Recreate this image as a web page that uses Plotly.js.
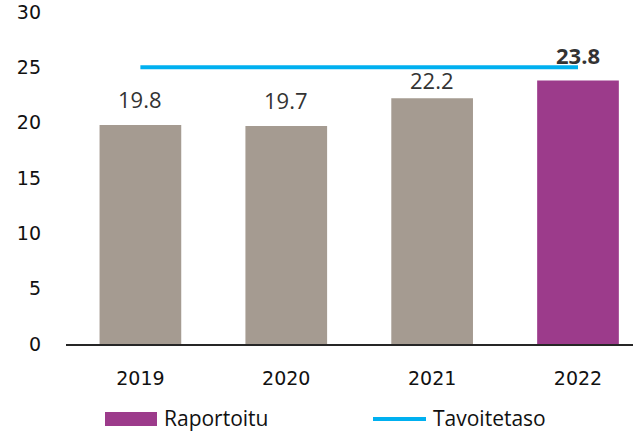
<!DOCTYPE html>
<html>
<head>
<meta charset="utf-8">
<script src="https://cdn.plot.ly/plotly-3.0.1.min.js"></script>
<style>html,body{margin:0;padding:0;background:#fff;}#chart{width:633px;height:433px;}</style>
</head>
<body>
<div id="chart"></div>
<script>
var years = ['2019', '2020', '2021', '2022'];
var reported = [19.8, 19.7, 22.2, 23.8];
var target = [25, 25, 25, 25];
var barColors = ['#A59B91', '#A59B91', '#A59B91', '#9C3B8B'];
var labelBold = [false, false, false, true];
var yTicks = [0, 5, 10, 15, 20, 25, 30];
var seriesNames = ['Raportoitu', 'Tavoitetaso'];

var bars = {
  type: 'bar', x: years, y: reported, name: seriesNames[0],
  marker: {color: barColors}, width: 0.56, showlegend: false, hoverinfo: 'x+y'
};
var line = {
  type: 'scatter', mode: 'lines', x: years, y: target, name: seriesNames[1],
  line: {color: '#00B0F0', width: 4}, showlegend: false
};

// label offsets (px): the 2021 label is nudged down to stay below the target line
var labelNudge = {2: -8};
var annotations = years.map(function (yr, i) {
  var t = reported[i].toFixed(1);
  return {
    x: i, y: reported[i], xref: 'x', yref: 'y', yanchor: 'bottom',
    yshift: 9 + (labelNudge[i] || 0),
    text: labelBold[i] ? '<b>' + t + '</b>' : t, showarrow: false,
    font: {family: 'Open Sans, sans-serif', size: 22, color: '#333333'}
  };
});
// custom legend
var legY = -(418 - 344) / 332;
annotations.push({xref: 'paper', yref: 'paper', x: (162 - 66) / 567, y: legY,
  xanchor: 'left', yanchor: 'middle', text: seriesNames[0], showarrow: false,
  font: {family: 'Open Sans, sans-serif', size: 21, color: '#111111'}});
annotations.push({xref: 'paper', yref: 'paper', x: (431 - 66) / 567, y: legY,
  xanchor: 'left', yanchor: 'middle', text: seriesNames[1], showarrow: false,
  font: {family: 'Open Sans, sans-serif', size: 21, color: '#111111'}});

var shapes = [
  {type: 'rect', xref: 'paper', yref: 'paper', x0: (105 - 66) / 567, x1: (157 - 66) / 567,
   y0: -(426 - 344) / 332, y1: -(412 - 344) / 332, fillcolor: barColors[3], line: {width: 0}},
  {type: 'line', xref: 'paper', yref: 'paper', x0: (373 - 66) / 567, x1: (426 - 66) / 567,
   y0: -(419 - 344) / 332, y1: -(419 - 344) / 332, line: {color: '#00B0F0', width: 4}}
];

var layout = {
  width: 633, height: 433,
  margin: {l: 66, r: 0, t: 12, b: 89, pad: 0},
  paper_bgcolor: '#ffffff', plot_bgcolor: '#ffffff',
  showlegend: false,
  xaxis: {
    type: 'category', range: [-0.51, 3.377], showgrid: false, zeroline: false,
    showline: true, linecolor: '#262626', linewidth: 2, ticks: '',
    ticklabelstandoff: 16,
    tickfont: {family: 'DejaVu Sans, sans-serif', size: 19, color: '#111111'}
  },
  yaxis: {
    range: [0, 30], tickvals: yTicks, showgrid: false, zeroline: false, showline: false,
    ticks: '', ticklabelstandoff: 24,
    tickfont: {family: 'DejaVu Sans, sans-serif', size: 19, color: '#111111'}
  },
  annotations: annotations,
  shapes: shapes
};

Plotly.newPlot('chart', [bars, line], layout, {displayModeBar: false, staticPlot: true});
</script>
</body>
</html>
